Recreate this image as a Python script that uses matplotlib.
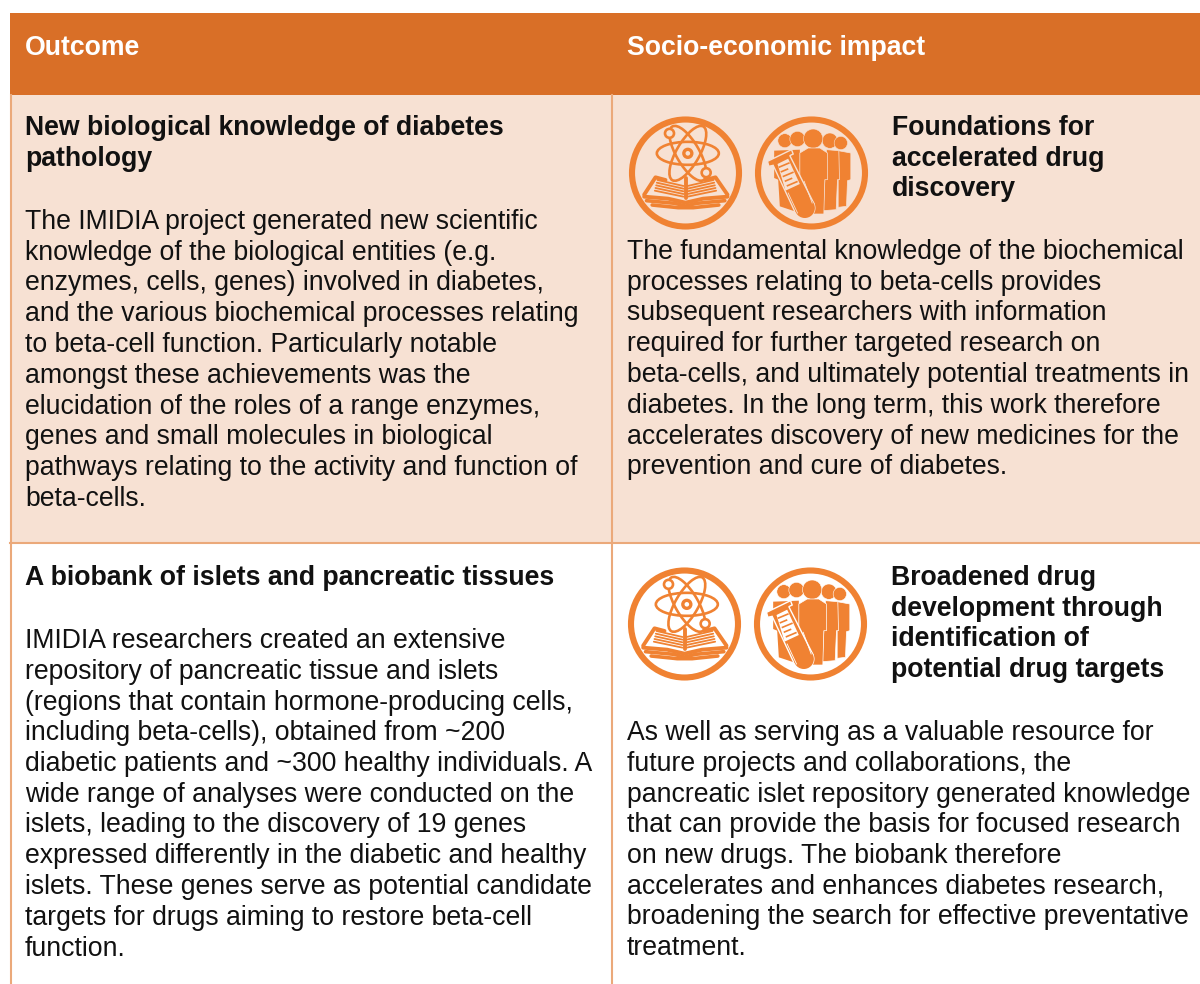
import matplotlib
matplotlib.use("Agg")
import matplotlib.pyplot as plt
from matplotlib.patches import Rectangle, Circle, Ellipse, Polygon

plt.rcParams['font.family'] = ['Liberation Sans', 'DejaVu Sans']

headers = ["Outcome", "Socio-economic impact"]

head_1 = ["New biological knowledge of diabetes", "pathology"]
body_1 = ["The IMIDIA project generated new scientific",
          "knowledge of the biological entities (e.g.",
          "enzymes, cells, genes) involved in diabetes,",
          "and the various biochemical processes relating",
          "to beta-cell function. Particularly notable",
          "amongst these achievements was the",
          "elucidation of the roles of a range enzymes,",
          "genes and small molecules in biological",
          "pathways relating to the activity and function of",
          "beta-cells."]

head_2 = ["Foundations for", "accelerated drug", "discovery"]
body_2 = ["The fundamental knowledge of the biochemical",
          "processes relating to beta-cells provides",
          "subsequent researchers with information",
          "required for further targeted research on",
          "beta-cells, and ultimately potential treatments in",
          "diabetes. In the long term, this work therefore",
          "accelerates discovery of new medicines for the",
          "prevention and cure of diabetes."]

head_3 = ["A biobank of islets and pancreatic tissues"]
body_3 = ["IMIDIA researchers created an extensive",
          "repository of pancreatic tissue and islets",
          "(regions that contain hormone-producing cells,",
          "including beta-cells), obtained from ~200",
          "diabetic patients and ~300 healthy individuals. A",
          "wide range of analyses were conducted on the",
          "islets, leading to the discovery of 19 genes",
          "expressed differently in the diabetic and healthy",
          "islets. These genes serve as potential candidate",
          "targets for drugs aiming to restore beta-cell",
          "function."]

head_4 = ["Broadened drug", "development through", "identification of",
          "potential drug targets"]
body_4 = ["As well as serving as a valuable resource for",
          "future projects and collaborations, the",
          "pancreatic islet repository generated knowledge",
          "that can provide the basis for focused research",
          "on new drugs. The biobank therefore",
          "accelerates and enhances diabetes research,",
          "broadening the search for effective preventative",
          "treatment."]

ORANGE = '#D96F27'
PEACH = '#F7E1D3'
RULE = '#EBA97A'
ICON = '#F08232'
SIZE = 19.2
STEP = 30.75

fig = plt.figure(figsize=(12, 9.84), dpi=100)
ax = fig.add_axes([0, 0, 1, 1])
ax.set_xlim(0, 1200)
ax.set_ylim(984, 0)
ax.axis('off')


def block(lines, x, y, bold=False, color='#111111'):
    for i, line in enumerate(lines):
        ax.text(x, y + i * STEP, line, fontsize=SIZE, color=color, va='baseline',
                fontweight='bold' if bold else 'normal')


def ring(cx, cy):
    ax.add_patch(Circle((cx, cy), 53.5, fc='none', ec=ICON, lw=4.4, zorder=3))


def atom_book(cx, cy, bg):
    # atom measured on a 3x crop with the ring centre at (196, 219)
    def a(x, y):
        return cx + (x - 196) / 3, cy + (y - 219) / 3

    # book measured on a second crop, ring centre at (172, 9)
    def p(x, y):
        return cx + (x - 172) / 3, cy + (y - 9) / 3

    def ln(pts, lw=2.0):
        xy = [p(*q) for q in pts]
        ax.plot([q[0] for q in xy], [q[1] for q in xy], color=ICON, lw=lw,
                solid_capstyle='round', solid_joinstyle='round', zorder=4)

    ring(cx, cy)
    for ang in [0, 60, 120]:
        ax.add_patch(Ellipse(a(203, 160), 62, 23, angle=ang, fc='none', ec=ICON, lw=1.9, zorder=4))
    ax.add_patch(Circle(a(203, 160), 4, fc='none', ec=ICON, lw=2.4, zorder=4))
    for e in [(148, 100), (258, 218)]:
        ax.add_patch(Circle(a(*e), 4.5, fc=bg, ec=ICON, lw=1.9, zorder=5))

    # covers
    ln([(48, 74), (82, 22), (112, 30)], 2.8)
    ln([(298, 74), (262, 22), (232, 30)], 2.8)
    ln([(48, 80), (120, 86), (172, 98), (225, 86), (298, 80)], 2.8)
    ln([(55, 92), (140, 100), (172, 108), (205, 100), (290, 92)], 2.6)
    ln([(72, 105), (150, 113), (195, 113), (272, 105)], 2.6)
    # pages
    for k in range(5):
        ln([(88 - k * 2, 30 + k * 8), (166, 48 + k * 8)], 1.3)
        ln([(256 + k * 2, 30 + k * 8), (178, 48 + k * 8)], 1.3)
    ln([(172, 25), (172, 84)], 2.8)


def people_tube(cx, cy, bg):
    # measured on a 3x crop with the ring centre at (170, 165)
    def p(x, y):
        return cx + (x - 170) / 3, cy + (y - 165) / 3

    def poly(pts, fc, ec='none', lw=0, z=4):
        ax.add_patch(Polygon([p(*q) for q in pts], closed=True, fc=fc, ec=ec, lw=lw, zorder=z))

    ring(cx, cy)
    for hx, hy, r in [(90, 68, 21), (128, 63, 23), (225, 68, 23), (258, 75, 20)]:
        ax.add_patch(Circle(p(hx, hy), r / 3, fc=ICON, ec=bg, lw=0.4, zorder=4))
    poly([(58, 98), (135, 95), (135, 285), (75, 265), (70, 185), (58, 180)], ICON, z=4)
    poly([(250, 98), (288, 105), (288, 185), (278, 188), (275, 265), (250, 268)], ICON, bg, 0.5, 4)
    poly([(215, 95), (252, 98), (254, 185), (248, 185), (244, 275), (205, 278)], ICON, bg, 0.5, 4)
    ax.add_patch(Circle(p(175, 62), 29 / 3, fc=ICON, ec=bg, lw=0.4, zorder=5))
    poly([(135, 105), (160, 90), (195, 90), (218, 105), (218, 185), (210, 185), (207, 288), (135, 288)],
         ICON, bg, 0.5, 5)

    # test tube, tilted
    ax.add_patch(Circle(p(150, 270), 10, fc=ICON, ec=bg, lw=1.0, zorder=6))
    poly([(38, 130), (110, 95), (115, 108), (105, 113), (178, 258), (122, 285), (55, 142), (42, 145)],
         ICON, bg, 1.0, 6)
    ax.add_patch(Circle(p(150, 270), 10, fc=ICON, ec='none', zorder=7))
    # empty part of the tube above the liquid
    poly([(68, 138), (100, 122), (135, 198), (92, 218)], bg, z=7)
    for k, w in enumerate([28, 18, 28, 18, 28]):
        y0 = 147 + k * 14
        x0 = 74 + k * 6
        ax.plot(*zip(p(x0, y0), p(x0 + w, y0 - w * 0.42)), color=ICON, lw=1.2, zorder=8)
    # thin line inside the wall around the liquid
    ax.plot(*zip(p(100, 225), p(128, 285)), color=bg, lw=0.6, zorder=8)
    ax.plot(*zip(p(148, 190), p(172, 255)), color=bg, lw=0.6, zorder=8)


# header band and tinted first row
ax.add_patch(Rectangle((10, 13), 1190, 82, fc=ORANGE, ec='none'))
ax.add_patch(Rectangle((10, 95), 1190, 448, fc=PEACH, ec='none'))

# cell rules
ax.plot([11, 11], [95, 984], color=RULE, lw=1.5)
ax.plot([612, 612], [95, 984], color=RULE, lw=1.5)
ax.plot([10, 1200], [543, 543], color=RULE, lw=1.5)

ax.text(25, 55, headers[0], fontsize=SIZE, fontweight='bold', color='white', va='baseline')
ax.text(627, 55, headers[1], fontsize=SIZE, fontweight='bold', color='white', va='baseline')

block(head_1, 25, 135, bold=True)
block(body_1, 25, 229)
block(head_2, 892, 135, bold=True)
block(body_2, 627, 259)
block(head_3, 25, 585, bold=True)
block(body_3, 25, 648)
block(head_4, 891, 585, bold=True)
block(body_4, 627, 740)

atom_book(685.5, 173, PEACH)
people_tube(811.5, 173, PEACH)
atom_book(684.5, 624, 'white')
people_tube(810.5, 624, 'white')

fig.savefig('out.png', dpi=100)
